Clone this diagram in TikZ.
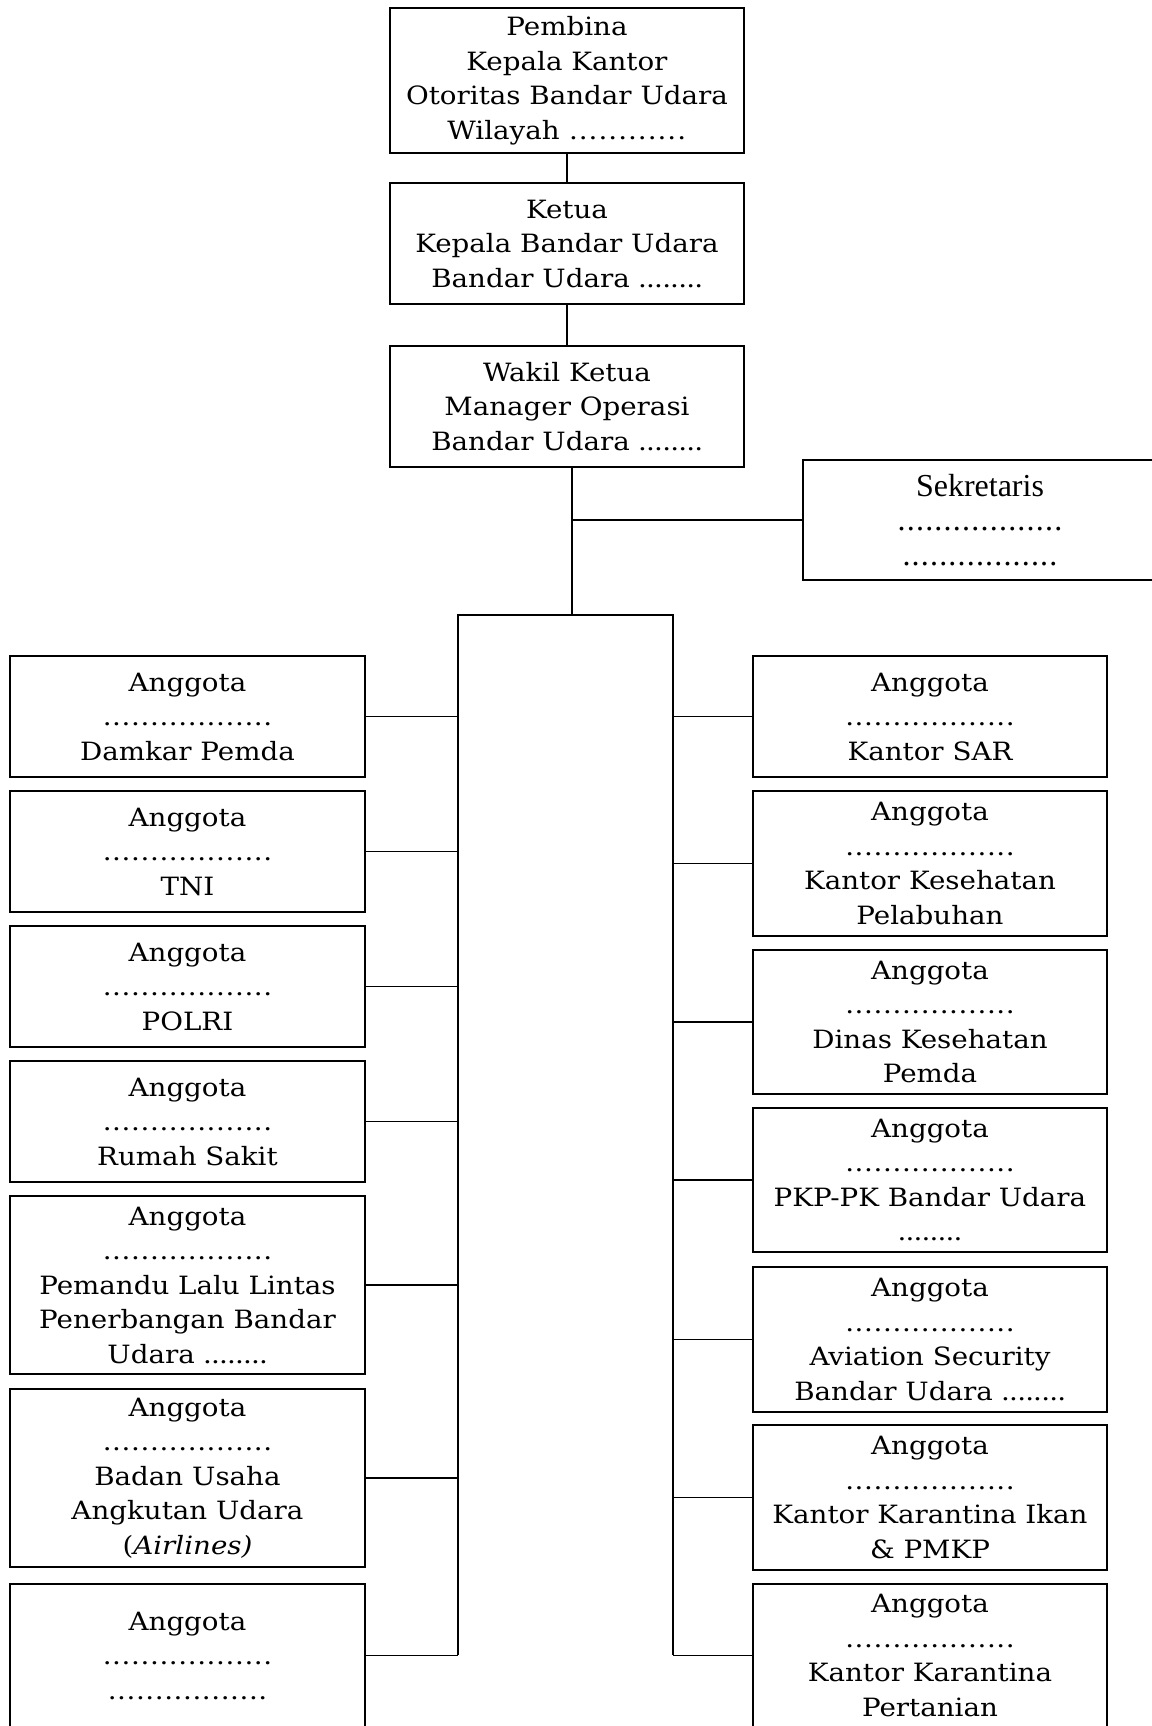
\documentclass[tikz,border=0pt]{standalone}
\usepackage{fontspec}
\setmainfont[FakeStretch=1.1]{DejaVu Serif}
\newfontfamily\sekfont{Liberation Serif}
\newcommand\dt[2]{\hbox to #2{\cleaders\hbox to \dimexpr #2/#1\relax{\hss.\hss}\hfill}}
\tikzset{
  box/.style={draw, line width=0.9pt, align=center, inner sep=0pt,
    font=\fontsize{12.6pt}{17.25pt}\selectfont},
  lbox/.style={box, minimum width=177.5pt},
  rbox/.style={box, minimum width=177pt},
  link/.style={line width=0.9pt}
}
\begin{document}
\begin{tikzpicture}[x=0.5pt, y=-0.5pt]
\useasboundingbox (0,0) rectangle (1152,1726);
\clip (0,0) rectangle (1152,1726);
% top chain
\node[rbox, minimum height=72.5pt] (pembina) at (567,80.5)
  {Pembina\\Kepala Kantor\\Otoritas Bandar Udara\\Wilayah \dt{12}{59pt}};
\node[rbox, minimum height=60.5pt] (ketua) at (567,243.5)
  {Ketua\\Kepala Bandar Udara\\Bandar Udara \dt{8}{32pt}};
\node[rbox, minimum height=60.5pt] (wakil) at (567,406.5)
  {Wakil Ketua\\Manager Operasi\\Bandar Udara \dt{8}{32pt}};
\node[rbox, minimum height=60pt, font=\sekfont\fontsize{16pt}{17.25pt}\selectfont] (sek) at (980,520)
  {Sekretaris\\\dt{18}{83pt}\\\dt{17}{78pt}};
% left members
\node[lbox, minimum height=60.5pt] (l1) at (187.5,716.5) {Anggota\\\dt{18}{85pt}\\Damkar Pemda};
\node[lbox, minimum height=60.5pt] (l2) at (187.5,851.5) {Anggota\\\dt{18}{85pt}\\TNI};
\node[lbox, minimum height=60.5pt] (l3) at (187.5,986.5) {Anggota\\\dt{18}{85pt}\\POLRI};
\node[lbox, minimum height=60.5pt] (l4) at (187.5,1121.5) {Anggota\\\dt{18}{85pt}\\Rumah Sakit};
\node[lbox, minimum height=89pt] (l5) at (187.5,1285) {Anggota\\\dt{18}{85pt}\\Pemandu Lalu Lintas\\Penerbangan Bandar\\Udara \dt{8}{32pt}};
\node[lbox, minimum height=89pt] (l6) at (187.5,1478) {Anggota\\\dt{18}{85pt}\\Badan Usaha\\Angkutan Udara\\(\textit{Airlines)}};
\node[lbox, minimum height=71.5pt] (l7) at (187.5,1655.5) {Anggota\\\dt{18}{85pt}\\\dt{17}{80pt}};
% right members
\node[rbox, minimum height=60.5pt] (r1) at (930,716.5) {Anggota\\\dt{18}{85pt}\\Kantor SAR};
\node[rbox, minimum height=72.5pt] (r2) at (930,863.5) {Anggota\\\dt{18}{85pt}\\Kantor Kesehatan\\Pelabuhan};
\node[rbox, minimum height=72pt] (r3) at (930,1022) {Anggota\\\dt{18}{85pt}\\Dinas Kesehatan\\Pemda};
\node[rbox, minimum height=72pt] (r4) at (930,1180) {Anggota\\\dt{18}{85pt}\\PKP-PK Bandar Udara\\\dt{8}{32pt}};
\node[rbox, minimum height=72.5pt] (r5) at (930,1339.5) {Anggota\\\dt{18}{85pt}\\Aviation Security\\Bandar Udara \dt{8}{32pt}};
\node[rbox, minimum height=72.5pt] (r6) at (930,1497.5) {Anggota\\\dt{18}{85pt}\\Kantor Karantina Ikan\\\& PMKP};
\node[rbox, minimum height=71.5pt] (r7) at (930,1655.5) {Anggota\\\dt{18}{85pt}\\Kantor Karantina\\Pertanian};
% connectors
\coordinate (j) at (572,615);
\coordinate (bl) at (458,615);
\coordinate (br) at (673,615);
\coordinate (blb) at (458,1655);
\coordinate (brb) at (673,1655);
\draw[link] (pembina) -- (ketua);
\draw[link] (ketua) -- (wakil);
\draw[link] (wakil.south -| j) -- (j);
\draw[link] (sek.west) -- (sek.west -| j);
\draw[link] (blb) -- (bl) -- (br) -- (brb);
\foreach \n in {l1,l2,l3,l4,l5,l6,l7}{\draw[link] (\n.east) -- (\n.east -| bl);}
\foreach \n in {r1,r2,r3,r4,r5,r6,r7}{\draw[link] (\n.west) -- (\n.west -| br);}
\end{tikzpicture}
\end{document}
